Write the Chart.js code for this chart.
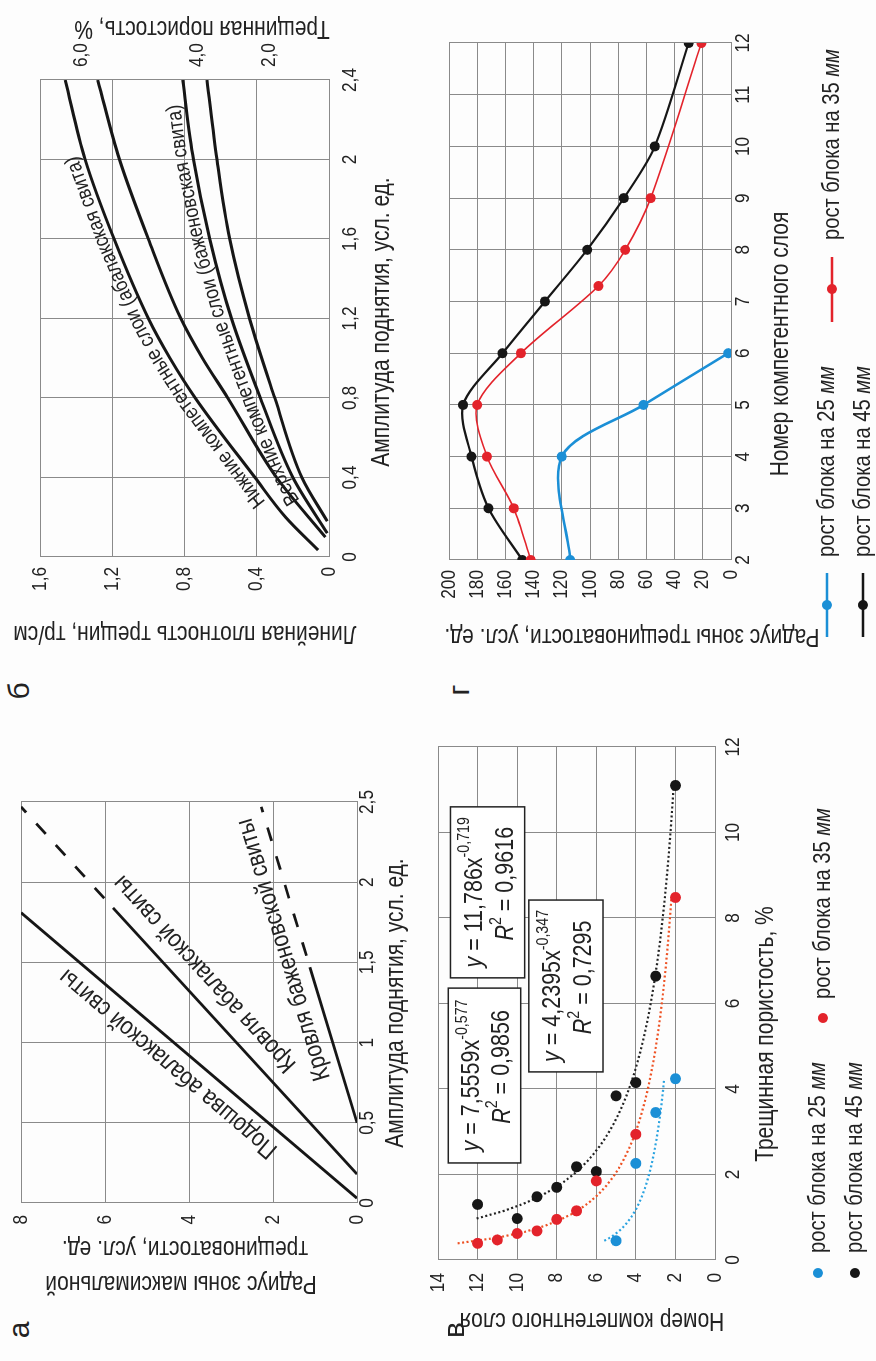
<!DOCTYPE html>
<html>
<head>
<meta charset="utf-8">
<script src="https://cdn.jsdelivr.net/npm/chart.js@4.4.1/dist/chart.umd.min.js"></script>
<style>
  html, body { margin: 0; padding: 0; background: #fff; width: 876px; height: 1361px; overflow: hidden; }
  #page { position: absolute; left: 0; top: 0; width: 1361px; height: 876px;
          transform-origin: 0 0; transform: translateY(1361px) rotate(-90deg); background: #fdfdfd; }
  #page canvas { position: absolute; }
  .panel { position: absolute; font: 30px "Liberation Sans", Arial, sans-serif; color: #222;
           line-height: 1; transform: translate(-50%, -55%); }
</style>
</head>
<body>
<div id="page">
  <canvas id="chA" width="530" height="409" style="left:60px;top:0px"></canvas>
  <canvas id="chB" width="635" height="395" style="left:715px;top:0px"></canvas>
  <canvas id="chV" width="612" height="456" style="left:28px;top:420px"></canvas>
  <canvas id="chG" width="649" height="456" style="left:712px;top:420px"></canvas>
  <div class="panel" style="left:31px;top:20px">а</div>
  <div class="panel" style="left:670px;top:20px">б</div>
  <div class="panel" style="left:31px;top:455px">в</div>
  <div class="panel" style="left:671px;top:460px">г</div>
</div>
<script>
// ---- а: радиус зоны максимальной трещиноватости ----
const ampTicksA = [0, 0.5, 1, 1.5, 2, 2.5];
const ampLabelsA = ['0', '0,5', '1', '1,5', '2', '2,5'];
const radTicksA = [0, 2, 4, 6, 8];
const radLabelsA = ['0', '2', '4', '6', '8'];
const podoshvaAmp = [0.03, 1.81];
const podoshvaRad = [0, 8];
const krovlyaAbAmp = [0.18, 1.84];
const krovlyaAbRad = [0, 5.81];
const krovlyaAbDashAmp = [1.84, 2.47];
const krovlyaAbDashRad = [5.81, 8.0];
const krovlyaBzhAmp = [0.5, 1.47];
const krovlyaBzhRad = [0, 1.12];
const krovlyaBzhDashAmp = [1.47, 2.47];
const krovlyaBzhDashRad = [1.12, 2.28];

// ---- б: линейная плотность трещин ----
const ampTicksB = [0, 0.4, 0.8, 1.2, 1.6, 2, 2.4];
const ampLabelsB = ['0', '0,4', '0,8', '1,2', '1,6', '2', '2,4'];
const densTicksB = [0, 0.4, 0.8, 1.2, 1.6];
const densLabelsB = ['0', '0,4', '0,8', '1,2', '1,6'];
const porosityLabelsB = ['2,0', '4,0', '6,0'];
const porosityAtDensB = [0.33, 0.73, 1.37];
const lowerAmp = [0.035, 0.2, 0.4, 0.8, 1.0, 1.2, 1.6, 2.0, 2.4];
const lowerDens = [0.06, 0.24, 0.41, 0.74, 0.88, 1.0, 1.19, 1.35, 1.46];
const lower2Amp = [0.1, 0.4, 0.8, 1.0, 1.2, 1.6, 2.0, 2.4];
const lower2Dens = [0.02, 0.29, 0.56, 0.70, 0.82, 1.0, 1.16, 1.28];
const upperAmp = [0.12, 0.4, 0.8, 1.2, 1.6, 2.0, 2.4];
const upperDens = [0.01, 0.20, 0.38, 0.54, 0.66, 0.75, 0.81];
const upper2Amp = [0.18, 0.4, 0.8, 1.2, 1.6, 2.0, 2.4];
const upper2Dens = [0.01, 0.15, 0.30, 0.44, 0.55, 0.62, 0.675];

// ---- в: номер слоя от трещинной пористости ----
const porTicksV = [0, 2, 4, 6, 8, 10, 12];
const layerTicksV = [0, 2, 4, 6, 8, 10, 12, 14];
const por25 = [0.45, 2.26, 3.45, 4.24];
const layer25 = [5, 4, 3, 2];
const por35 = [0.39, 0.47, 0.62, 0.68, 0.95, 1.15, 1.85, 2.94, 8.48];
const layer35 = [12, 11, 10, 9, 8, 7, 6, 4, 2];
const por45 = [0.97, 1.30, 1.48, 1.70, 2.07, 2.18, 3.84, 4.15, 6.64, 11.1];
const layer45 = [10, 12, 9, 8, 6, 7, 5, 4, 3, 2];
const trendCoef = [4.2395, 7.5559, 11.786];
const trendPow = [-0.347, -0.577, -0.719];
const trendR2 = ['0,7295', '0,9856', '0,9616'];

// ---- г: радиус зоны трещиноватости по слоям ----
const layerTicksG = [2, 3, 4, 5, 6, 7, 8, 9, 10, 11, 12];
const radTicksG = [0, 20, 40, 60, 80, 100, 120, 140, 160, 180, 200];
const layerG25 = [2, 4, 5, 6];
const radG25 = [114, 120, 62, 2];
const layerG35 = [2, 3, 4, 5, 6, 7.3, 8, 9, 12];
const radG35 = [142, 154, 173, 180, 149, 94, 75, 57, 21];
const layerG45 = [2, 3, 4, 5, 6, 7, 8, 9, 10, 12];
const radG45 = [148, 172, 184, 190, 162, 132, 102, 76, 54, 30];

const seriesNames = ['рост блока на 25 мм', 'рост блока на 35 мм', 'рост блока на 45 мм'];

const FONT = '"Liberation Sans", Arial, Helvetica, sans-serif';
const SX = 0.84;            // narrow look of the original lettering
const TEXT = '#222';
const GRID = '#8a8a8a';
const BLUE = '#1b8fd6';
const RED = '#e3232b';
const BLACK = '#161616';
const UP = -Math.PI / 2;

Chart.defaults.font.family = FONT;
Chart.defaults.color = TEXT;
Chart.defaults.animation = false;
Chart.defaults.responsive = false;
Chart.defaults.plugins.legend.display = false;
Chart.defaults.plugins.tooltip.enabled = false;

const pts = (xs, ys) => xs.map((x, i) => ({ x, y: ys[i] }));

function axis(min, max, values, labels, size) {
  return {
    type: 'linear', min, max,
    afterBuildTicks: s => { s.ticks = values.map(v => ({ value: v })); },
    afterFit: s => { if (s.isHorizontal()) s.height = size; else s.width = size; },
    ticks: { callback: (v, i) => labels[i], display: false, autoSkip: false },
    grid: { color: GRID, lineWidth: 1, drawTicks: false },
    border: { color: GRID, width: 1 }
  };
}

function setFont(ctx, size, italic) {
  ctx.font = (italic ? 'italic ' : '') + size + 'px ' + FONT;
}
// narrow text
function txt(ctx, s, x, y, o) {
  ctx.save();
  ctx.translate(x, y);
  if (o.rot) ctx.rotate(o.rot);
  ctx.scale(o.sx || SX, 1);
  setFont(ctx, o.size, o.italic);
  ctx.textAlign = o.align || 'center';
  ctx.textBaseline = 'middle';
  ctx.fillText(s, 0, 0);
  ctx.restore();
}
// italic / superscript parts, left aligned at x (already in a scaled context)
function richWidth(ctx, parts, size) {
  let w = 0;
  parts.forEach(p => { setFont(ctx, p.sup ? size * 0.66 : size, p.italic); w += ctx.measureText(p.t).width; });
  return w;
}
function drawRich(ctx, parts, x, y, size) {
  ctx.textAlign = 'left';
  ctx.textBaseline = 'middle';
  parts.forEach(p => {
    setFont(ctx, p.sup ? size * 0.66 : size, p.italic);
    ctx.fillText(p.t, x, p.sup ? y - size * 0.4 : y);
    x += ctx.measureText(p.t).width;
  });
}

// tick labels in the narrow lettering, placed by the chart's own scales
const narrowTicks = {
  id: 'narrowTicks',
  afterDraw(chart, args, opts) {
    const ctx = chart.ctx;
    ctx.save();
    ctx.fillStyle = TEXT;
    Object.values(chart.scales).forEach(s => {
      const gap = opts.gap[s.id];
      if (gap === undefined) return;
      s.ticks.forEach(t => {
        const p = s.getPixelForValue(t.value);
        if (s.isHorizontal()) txt(ctx, t.label, p, s.top + gap, { size: opts.size, sx: 0.86 });
        else if (s.position === 'left') txt(ctx, t.label, s.right - gap, p, { size: opts.size, sx: 0.86, align: 'right' });
        else txt(ctx, t.label, s.left + gap, p, { size: opts.size, sx: 0.86, align: 'left' });
      });
    });
    ctx.restore();
  }
};

// axis titles and other free text (canvas pixels)
const titles = {
  id: 'titles',
  afterDraw(chart, args, opts) {
    const ctx = chart.ctx;
    ctx.save();
    ctx.fillStyle = TEXT;
    opts.items.forEach(it => txt(ctx, it.text, it.x, it.y, { size: opts.size, rot: it.rot }));
    ctx.restore();
  }
};

// straight labels along lines (panel а)
const lineLabels = {
  id: 'lineLabels',
  afterDatasetsDraw(chart, args, opts) {
    const { ctx, scales: { x, y } } = chart;
    ctx.save();
    ctx.fillStyle = TEXT;
    opts.items.forEach(it => {
      const d = chart.data.datasets[it.dataset].data;
      const a = d[0], b = d[d.length - 1];
      const ang = Math.atan2(y.getPixelForValue(b.y) - y.getPixelForValue(a.y),
                             x.getPixelForValue(b.x) - x.getPixelForValue(a.x));
      txt(ctx, it.text, x.getPixelForValue(it.at[0]), y.getPixelForValue(it.at[1]), { size: opts.size, rot: ang, sx: 0.86 });
    });
    ctx.restore();
  }
};

// labels that follow a curve (panel б)
const curveLabels = {
  id: 'curveLabels',
  afterDatasetsDraw(chart, args, opts) {
    const { ctx, scales: { x, y } } = chart;
    ctx.save();
    ctx.fillStyle = TEXT;
    setFont(ctx, opts.size);
    ctx.textAlign = 'center';
    ctx.textBaseline = 'middle';
    opts.items.forEach(it => {
      const raw = chart.data.datasets[it.dataset].data.map(p => ({ x: x.getPixelForValue(p.x), y: y.getPixelForValue(p.y) }));
      const line = [];
      for (let i = 0; i < raw.length - 1; i++) {
        for (let k = 0; k < 10; k++) {
          const t = k / 10;
          line.push({ x: raw[i].x + (raw[i + 1].x - raw[i].x) * t, y: raw[i].y + (raw[i + 1].y - raw[i].y) * t });
        }
      }
      line.push(raw[raw.length - 1]);
      const off = line.map((p, i) => {
        const a = line[Math.max(i - 3, 0)], b = line[Math.min(i + 3, line.length - 1)];
        const dx = b.x - a.x, dy = b.y - a.y, l = Math.hypot(dx, dy) || 1;
        return { x: p.x + it.off * dy / l, y: p.y - it.off * dx / l };
      });
      const cum = [0];
      for (let i = 1; i < off.length; i++) cum.push(cum[i - 1] + Math.hypot(off[i].x - off[i - 1].x, off[i].y - off[i - 1].y));
      const startPx = x.getPixelForValue(it.start);
      let s = 0;
      for (let i = 1; i < off.length; i++) {
        if (off[i].x >= startPx) {
          s = cum[i - 1] + (startPx - off[i - 1].x) / ((off[i].x - off[i - 1].x) || 1) * (cum[i] - cum[i - 1]);
          break;
        }
      }
      for (const ch of it.text) {
        const w = ctx.measureText(ch).width * opts.sx;
        const m = s + w / 2;
        let j = 1;
        while (j < cum.length - 1 && cum[j] < m) j++;
        const f = (m - cum[j - 1]) / ((cum[j] - cum[j - 1]) || 1);
        const px = off[j - 1].x + (off[j].x - off[j - 1].x) * f;
        const py = off[j - 1].y + (off[j].y - off[j - 1].y) * f;
        const ang = Math.atan2(off[j].y - off[j - 1].y, off[j].x - off[j - 1].x);
        ctx.save();
        ctx.translate(px, py);
        ctx.rotate(ang);
        ctx.scale(opts.sx, 1);
        ctx.fillText(ch, 0, 0);
        ctx.restore();
        s += w;
      }
    });
    ctx.restore();
  }
};

// legend drawn under the chart
const sideLegend = {
  id: 'sideLegend',
  afterDraw(chart, args, opts) {
    const ctx = chart.ctx;
    ctx.save();
    opts.items.forEach(it => {
      const ds = chart.data.datasets[it.dataset];
      if (opts.lines) {
        ctx.strokeStyle = ds.borderColor;
        ctx.lineWidth = 2.5;
        ctx.beginPath(); ctx.moveTo(it.x0, it.y); ctx.lineTo(it.x1, it.y); ctx.stroke();
      }
      ctx.fillStyle = ds.pointBackgroundColor;
      ctx.beginPath(); ctx.arc(it.dot, it.y, 5, 0, Math.PI * 2); ctx.fill();
      ctx.fillStyle = TEXT;
      const words = ds.label.split(' ');
      const unit = words.pop();
      ctx.save();
      ctx.translate(it.tx, it.y);
      ctx.scale(SX, 1);
      drawRich(ctx, [{ t: words.join(' ') + ' ' }, { t: unit, italic: true }], 0, 0, opts.size);
      ctx.restore();
    });
    ctx.restore();
  }
};

// equation boxes (panel в)
const eqBoxes = {
  id: 'eqBoxes',
  afterDatasetsDraw(chart, args, opts) {
    const { ctx, scales: { x, y } } = chart;
    ctx.save();
    opts.items.forEach(it => {
      const x0 = x.getPixelForValue(it.box[0]), x1 = x.getPixelForValue(it.box[2]);
      const y0 = y.getPixelForValue(it.box[1]), y1 = y.getPixelForValue(it.box[3]);
      ctx.fillStyle = '#fff';
      ctx.fillRect(x0, y0, x1 - x0, y1 - y0);
      ctx.strokeStyle = '#222';
      ctx.lineWidth = 1.5;
      ctx.strokeRect(x0, y0, x1 - x0, y1 - y0);
      const k = it.trend;
      const l1 = [{ t: 'y', italic: true }, { t: ' = ' + String(trendCoef[k]).replace('.', ',') + 'x' },
                  { t: String(trendPow[k]).replace('.', ','), sup: true }];
      const l2 = [{ t: 'R', italic: true }, { t: '2', sup: true }, { t: ' = ' + trendR2[k] }];
      ctx.fillStyle = TEXT;
      const cx = (x0 + x1) / 2, h = y1 - y0;
      [[l1, 0.33, 0], [l2, 0.75, 10]].forEach(([parts, fy, dx]) => {
        ctx.save();
        ctx.translate(cx, y0 + h * fy);
        ctx.scale(0.86, 1);
        const w = richWidth(ctx, parts, opts.size);
        drawRich(ctx, parts, -w / 2 + dx, 0, opts.size);
        ctx.restore();
      });
    });
    ctx.restore();
  }
};

// ---------- а ----------
new Chart(document.getElementById('chA'), {
  type: 'scatter',
  data: { datasets: [
    { data: pts(podoshvaAmp, podoshvaRad) },
    { data: pts(krovlyaAbAmp, krovlyaAbRad) },
    { data: pts(krovlyaAbDashAmp, krovlyaAbDashRad), borderDash: [14, 15], borderDashOffset: 16 },
    { data: pts(krovlyaBzhAmp, krovlyaBzhRad) },
    { data: pts(krovlyaBzhDashAmp, krovlyaBzhDashRad), borderDash: [14, 16], borderDashOffset: 18 }
  ].map(d => Object.assign({ showLine: true, borderColor: BLACK, borderWidth: 2.8, pointRadius: 0, borderCapStyle: 'butt' }, d)) },
  options: {
    layout: { padding: { top: 21, right: 31, left: 0, bottom: 0 } },
    scales: {
      x: axis(0, 2.5, ampTicksA, ampLabelsA, 52),
      y: axis(0, 8, radTicksA, radLabelsA, 98)
    },
    plugins: {
      narrowTicks: { size: 20, gap: { x: 10, y: 12 } },
      titles: { size: 25, items: [
        { text: 'Амплитуда поднятия, усл. ед.', x: 298, y: 396 },
        { text: 'Радиус зоны максимальной', x: 18, y: 181, rot: UP },
        { text: 'трещиноватости, усл. ед.', x: 53, y: 185, rot: UP }
      ] },
      lineLabels: { size: 25, items: [
        { text: 'Подошва абалакской свиты', dataset: 0, at: [0.87, 4.49] },
        { text: 'Кровля абалакской свиты', dataset: 1, at: [1.43, 3.62] },
        { text: 'Кровля баженовской свиты', dataset: 3, at: [1.58, 1.74] }
      ] }
    }
  },
  plugins: [lineLabels, narrowTicks, titles]
});

// ---------- б ----------
new Chart(document.getElementById('chB'), {
  type: 'scatter',
  data: { datasets: [
    { data: pts(lowerAmp, lowerDens) },
    { data: pts(lower2Amp, lower2Dens) },
    { data: pts(upperAmp, upperDens) },
    { data: pts(upper2Amp, upper2Dens) }
  ].map(d => Object.assign({ showLine: true, borderColor: BLACK, borderWidth: 3, pointRadius: 0, cubicInterpolationMode: 'monotone' }, d)) },
  options: {
    layout: { padding: { top: 40, right: 0, left: 0, bottom: 0 } },
    scales: {
      x: axis(0, 2.4, ampTicksB, ampLabelsB, 66),
      y: axis(0, 1.6, densTicksB, densLabelsB, 89),
      y2: Object.assign(axis(0, 1.6, porosityAtDensB, porosityLabelsB, 69),
                        { position: 'right', grid: { display: false }, border: { display: false } })
    },
    plugins: {
      narrowTicks: { size: 20, gap: { x: 21, y: 10, y2: 13 } },
      titles: { size: 25, items: [
        { text: 'Амплитуда поднятия, усл. ед.', x: 324, y: 382 },
        { text: 'Линейная плотность трещин, тр/см', x: 13, y: 185, rot: UP },
        { text: 'Трещинная пористость, %', x: 618, y: 202, rot: UP }
      ] },
      curveLabels: { size: 21, sx: 0.86, items: [
        { text: 'Нижние компетентные слои (абалакская свита)', dataset: 0, start: 0.26, off: 12 },
        { text: 'Верхние компетентные слои (баженовская свита)', dataset: 2, start: 0.27, off: 12 }
      ] }
    }
  },
  plugins: [curveLabels, narrowTicks, titles]
});

// ---------- в ----------
const trendPts = k => {
  const xs = [por25, por35, por45][k];
  const lo = Math.min(...xs), hi = Math.max(...xs), out = [];
  for (let i = 0; i <= 60; i++) {
    const v = lo + (hi - lo) * i / 60;
    out.push({ x: v, y: trendCoef[k] * Math.pow(v, trendPow[k]) });
  }
  return out;
};
new Chart(document.getElementById('chV'), {
  type: 'scatter',
  data: { datasets: [
    { label: seriesNames[0], data: pts(por25, layer25), pointBackgroundColor: BLUE, borderColor: BLUE },
    { label: seriesNames[1], data: pts(por35, layer35), pointBackgroundColor: RED, borderColor: RED },
    { label: seriesNames[2], data: pts(por45, layer45), pointBackgroundColor: BLACK, borderColor: BLACK },
    { data: trendPts(0), showLine: true, borderColor: '#2aa3e0', borderDash: [2, 2.5], borderWidth: 2.2, pointRadius: 0 },
    { data: trendPts(1), showLine: true, borderColor: '#ee5224', borderDash: [2, 2.5], borderWidth: 2.2, pointRadius: 0 },
    { data: trendPts(2), showLine: true, borderColor: '#222', borderDash: [2, 2.5], borderWidth: 2.2, pointRadius: 0 }
  ].map((d, i) => Object.assign(i < 3 ? { pointRadius: 5.5, pointBorderWidth: 0 } : {}, d)) },
  options: {
    layout: { padding: { top: 18, right: 26, left: 0, bottom: 97 } },
    scales: {
      x: axis(0, 12, porTicksV, porTicksV.map(String), 64),
      y: axis(0, 14, layerTicksV, layerTicksV.map(String), 73)
    },
    plugins: {
      narrowTicks: { size: 20, gap: { x: 18, y: 13 } },
      eqBoxes: { size: 25, items: [
        { box: [2.27, 13.48, 6.36, 9.82], trend: 1 },
        { box: [6.6, 13.37, 10.6, 9.62], trend: 2 },
        { box: [4.4, 9.41, 8.42, 5.66], trend: 0 }
      ] },
      titles: { size: 25, items: [
        { text: 'Номер компетентного слоя', x: 13, y: 172, rot: UP },
        { text: 'Трещинная пористость, %', x: 299, y: 346 }
      ] },
      sideLegend: { size: 24, lines: false, items: [
        { dataset: 0, dot: 60, tx: 80, y: 398 },
        { dataset: 2, dot: 60, tx: 80, y: 435 },
        { dataset: 1, dot: 315, tx: 334, y: 403 }
      ] }
    }
  },
  plugins: [eqBoxes, narrowTicks, titles, sideLegend]
});

// ---------- г ----------
new Chart(document.getElementById('chG'), {
  type: 'scatter',
  data: { datasets: [
    { label: seriesNames[0], data: pts(layerG25, radG25), borderColor: BLUE, pointBackgroundColor: BLUE, borderWidth: 2.6 },
    { label: seriesNames[1], data: pts(layerG35, radG35), borderColor: RED, pointBackgroundColor: RED, borderWidth: 1.6 },
    { label: seriesNames[2], data: pts(layerG45, radG45), borderColor: BLACK, pointBackgroundColor: BLACK, borderWidth: 2.2 }
  ].map(d => Object.assign({ showLine: true, tension: 0.3, pointRadius: 5, pointBorderWidth: 0 }, d)) },
  options: {
    layout: { padding: { top: 29, right: 43, left: 0, bottom: 81 } },
    scales: {
      x: axis(2, 12, layerTicksG, layerTicksG.map(String), 64),
      y: axis(0, 200, radTicksG, radTicksG.map(String), 89)
    },
    plugins: {
      narrowTicks: { size: 20, gap: { x: 12, y: 10 } },
      titles: { size: 25, items: [
        { text: 'Радиус зоны трещиноватости, усл. ед.', x: 13, y: 212, rot: UP },
        { text: 'Номер компетентного слоя', x: 305, y: 361 }
      ] },
      sideLegend: { size: 24, lines: true, items: [
        { dataset: 0, x0: 12, x1: 76, dot: 44, tx: 92, y: 407 },
        { dataset: 2, x0: 12, x1: 76, dot: 44, tx: 92, y: 443 },
        { dataset: 1, x0: 327, x1: 392, dot: 360, tx: 409, y: 412 }
      ] }
    }
  },
  plugins: [narrowTicks, titles, sideLegend]
});
</script>
</body>
</html>
